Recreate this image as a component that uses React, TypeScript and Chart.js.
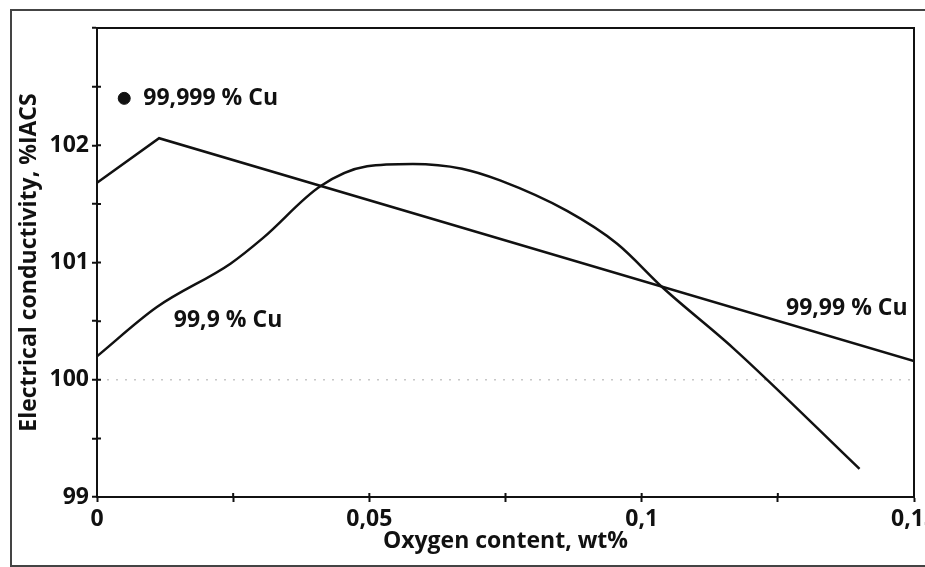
import React, { useEffect, useRef } from "react";
import { Chart, registerables } from "chart.js";

Chart.register(...registerables);

// 99,99 % Cu line
const lineAX = [0, 0.0114, 0.15];
const lineAY = [101.68, 102.06, 100.16];

// 99,9 % Cu curve
const lineBX = [0, 0.011, 0.0245, 0.0305, 0.041, 0.0496, 0.058, 0.067, 0.074, 0.0863, 0.0955, 0.104, 0.1168, 0.14];
const lineBY = [100.2, 100.62, 100.99, 101.21, 101.65, 101.82, 101.84, 101.8, 101.7, 101.44, 101.16, 100.78, 100.27, 99.24];

// 99,999 % Cu point
const dotX = [0.005];
const dotY = [102.4];

const xTickLabels = ["0", "0,05", "0,1", "0,15"];
const yTickLabels = ["99", "100", "101", "102"];

const annTexts = ["99,999 % Cu", "99,9 % Cu", "99,99 % Cu"];
const annX = [0.0085, 0.0141, 0.1265];
const annY = [102.4, 100.505, 100.607];

const FONT = "'Open Sans', 'Noto Sans', sans-serif";

export default function App() {
  const ref = useRef<HTMLCanvasElement>(null);

  useEffect(() => {
    if (!ref.current) return;
    const annotate = {
      id: "annotate",
      afterDraw(chart: any) {
        const { ctx, chartArea, scales } = chart;
        ctx.save();
        ctx.strokeStyle = "#111";
        ctx.lineWidth = 2;
        ctx.strokeRect(chartArea.left, chartArea.top, chartArea.right - chartArea.left, chartArea.bottom - chartArea.top);
        // inner halves of the cross-shaped tick marks
        ctx.beginPath();
        scales.x.ticks.forEach((t: any) => {
          const px = scales.x.getPixelForValue(t.value);
          ctx.moveTo(px, chartArea.bottom);
          ctx.lineTo(px, chartArea.bottom - 4);
        });
        scales.y.ticks.forEach((t: any) => {
          const py = scales.y.getPixelForValue(t.value);
          ctx.moveTo(chartArea.left, py);
          ctx.lineTo(chartArea.left + 4, py);
        });
        ctx.stroke();
        ctx.fillStyle = "#111";
        ctx.font = `700 23px ${FONT}`;
        ctx.textAlign = "left";
        ctx.textBaseline = "middle";
        annTexts.forEach((t, i) => {
          ctx.fillText(t, scales.x.getPixelForValue(annX[i]), scales.y.getPixelForValue(annY[i]));
        });
        ctx.restore();
      },
    };

    const chart = new Chart(ref.current, {
      type: "scatter",
      data: {
        datasets: [
          {
            data: lineAX.map((x, i) => ({ x, y: lineAY[i] })),
            showLine: true,
            borderColor: "#111",
            borderWidth: 2.5,
            pointRadius: 0,
            tension: 0,
          },
          {
            data: lineBX.map((x, i) => ({ x, y: lineBY[i] })),
            showLine: true,
            borderColor: "#111",
            borderWidth: 2.5,
            pointRadius: 0,
            cubicInterpolationMode: "monotone",
          },
          {
            data: dotX.map((x, i) => ({ x, y: dotY[i] })),
            showLine: false,
            pointRadius: 6,
            backgroundColor: "#111",
            borderColor: "#111",
          },
        ],
      },
      options: {
        animation: false,
        responsive: false,
        devicePixelRatio: 1,
        layout: { padding: { left: 0, top: 28, right: 11, bottom: 0 } },
        plugins: { legend: { display: false }, tooltip: { enabled: false } },
        scales: {
          x: {
            type: "linear",
            min: 0,
            max: 0.15,
            afterBuildTicks: (scale: any) => {
              scale.ticks = [0, 1, 2, 3, 4, 5, 6].map((k) => ({ value: k * 0.025 }));
            },
            afterFit: (scale: any) => {
              scale.height = 70;
              scale.paddingLeft = 0;
              scale.paddingRight = 0;
            },
            ticks: {
              autoSkip: false,
              maxRotation: 0,
              padding: 4,
              color: "#111",
              font: { family: FONT, size: 23, weight: "700" },
              callback: (_v: any, i: number) => (i % 2 === 0 ? xTickLabels[i / 2] : ""),
            },
            grid: { drawOnChartArea: false, drawTicks: true, tickLength: 5, tickColor: "#111", tickWidth: 2 },
            border: { display: true, color: "#111", width: 2 },
            title: {
              display: true,
              text: "Oxygen content, wt%",
              color: "#111",
              font: { family: FONT, size: 23, weight: "700" },
              padding: { top: 0, bottom: 12 },
            },
          },
          y: {
            type: "linear",
            min: 99,
            max: 103,
            afterBuildTicks: (scale: any) => {
              scale.ticks = [0, 1, 2, 3, 4, 5, 6, 7, 8].map((k) => ({ value: 99 + k * 0.5 }));
            },
            afterFit: (scale: any) => {
              scale.width = 97;
              scale.paddingTop = 0;
              scale.paddingBottom = 0;
            },
            ticks: {
              autoSkip: false,
              padding: 3,
              color: "#111",
              font: { family: FONT, size: 23, weight: "700" },
              callback: (_v: any, i: number) => (i % 2 === 0 && i / 2 < yTickLabels.length ? yTickLabels[i / 2] : ""),
            },
            grid: {
              drawOnChartArea: true,
              drawTicks: true,
              tickLength: 5,
              tickColor: "#111",
              tickWidth: 2,
              color: (c: any) => (c.tick && c.tick.value === 100 ? "rgba(0,0,0,0.22)" : "rgba(0,0,0,0)"),
              lineWidth: 1.5,
            },
            border: { display: true, color: "#111", width: 2, dash: [2, 7] as any },
            title: {
              display: true,
              text: "Electrical conductivity, %IACS",
              color: "#111",
              font: { family: FONT, size: 23, weight: "700" },
              padding: { top: 16, bottom: 0 },
            },
          },
        },
      },
      plugins: [annotate],
    } as any);
    return () => chart.destroy();
  }, []);

  return (
    <div style={{ position: "fixed", left: 0, top: 0, width: 925, height: 567, overflow: "hidden", background: "#fff" }}>
      <div
        style={{
          position: "absolute",
          left: 10,
          top: 9,
          width: 960,
          height: 554,
          border: "2px solid #444",
        }}
      />
      <canvas ref={ref} width={925} height={567} style={{ position: "absolute", left: 0, top: 0, width: 925, height: 567 }} />
    </div>
  );
}
